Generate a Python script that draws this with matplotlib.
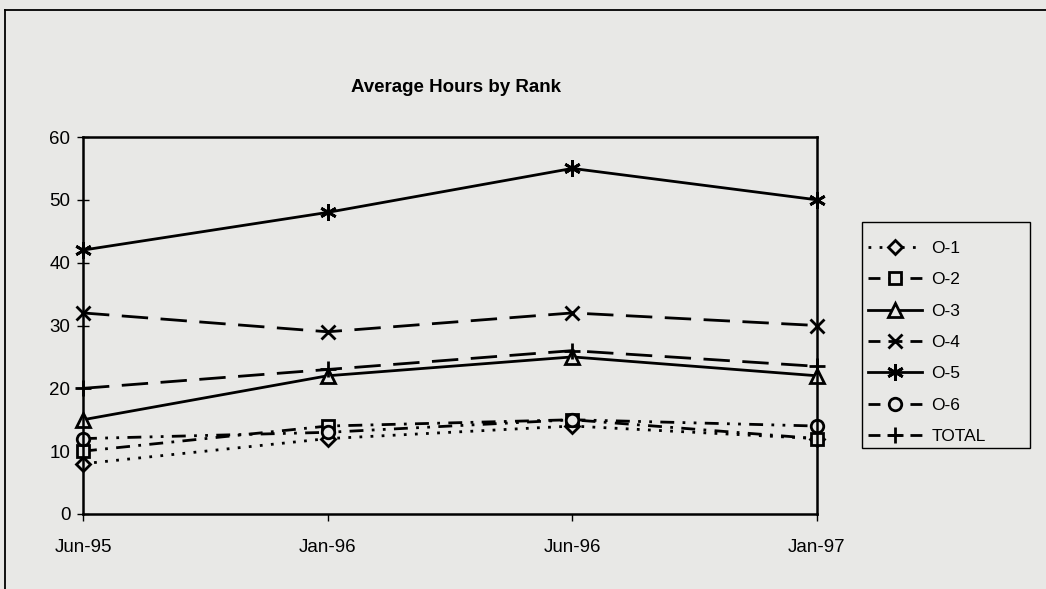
import matplotlib
matplotlib.use("Agg")
import matplotlib.pyplot as plt
from matplotlib.lines import Line2D
from matplotlib.patches import Rectangle

plt.rcParams['font.family'] = ['Liberation Sans', 'DejaVu Sans']

periods = ["Jun-95", "Jan-96", "Jun-96", "Jan-97"]
o1 = [8, 12, 14, 12]
o2 = [10, 14, 15, 12]
o3 = [15, 22, 25, 22]
o4 = [32, 29, 32, 30]
o5 = [42, 48, 55, 50]
o6 = [12, 13, 15, 14]
total = [20, 23, 26, 23.5]

bg = "#e8e8e6"
W, H = 1046, 589

fig = plt.figure(figsize=(W / 100, H / 100), dpi=100, facecolor=bg)
ax = fig.add_axes([83 / W, 1 - 514 / H, (817 - 83) / W, (514 - 137) / H])
ax.set_facecolor(bg)

x = list(range(len(periods)))
common = dict(color="black", lw=2.0, markerfacecolor=bg, markeredgecolor="black",
              markeredgewidth=2.0, clip_on=False)

dash_long = (0, (9.5, 4.5))
# legend sample: dash, gap, marker, gap, dash
dash_key = (0, (4.3, 2.9, 5.0, 2.9, 4.3, 10))
series = [
    ("O-1", o1, dict(ls=(0, (1.0, 3.0)), marker="D", ms=7), (0, (1.0, 3.0))),
    ("O-2", o2, dict(ls=(0, (5, 3, 1.0, 3)), marker="s", ms=8.5), dash_key),
    ("O-3", o3, dict(ls="-", marker="^", ms=9.5), "-"),
    ("O-4", o4, dict(ls=dash_long, marker="x", ms=10), dash_key),
    ("O-5", o5, dict(ls="-", marker=(6, 2, 0), ms=12), "-"),
    ("O-6", o6, dict(ls=(0, (5, 3, 1.0, 3, 1.0, 3)), marker="o", ms=9), dash_key),
    ("TOTAL", total, dict(ls=dash_long, marker="+", ms=12), dash_key),
]

handles = []
for name, vals, style, legend_ls in series:
    ax.plot(x, vals, label=name, **common, **style)
    proxy_style = dict(style)
    proxy_style["ls"] = legend_ls
    handles.append(Line2D([], [], label=name, **common, **proxy_style))

ax.set_xlim(0, len(periods) - 1)
ax.set_ylim(0, 60)
ax.set_yticks(range(0, 61, 10))
ax.set_xticks(x)
ax.set_xticklabels(periods)

for s in ax.spines.values():
    s.set_linewidth(1.8)
    s.set_color("black")

ax.tick_params(axis="y", direction="inout", length=8, width=1, labelsize=13.5, pad=5)
ax.tick_params(axis="x", direction="out", length=5, width=1, labelsize=13.5, pad=13)

fig.text(456 / W, 1 - 88 / H, "Average Hours by Rank", ha="center", va="center",
         fontsize=13.5, fontweight="bold")

# legend box
fig.add_artist(Rectangle((862 / W, 1 - 448 / H), (1030 - 862) / W, (448 - 222) / H,
                         transform=fig.transFigure, facecolor=bg, edgecolor="black",
                         lw=1.0, zorder=1))
leg = fig.legend(handles=handles, loc="upper left",
                 bbox_to_anchor=(868 / W, 1 - 241 / H),
                 fontsize=12.5, frameon=False, handlelength=3.1,
                 labelspacing=0.93, borderpad=0.0, handletextpad=0.55,
                 borderaxespad=0)
leg.set_zorder(2)

# outer chart border (top and left edges)
fig.add_artist(Line2D([5 / W, 1.0], [1 - 10 / H, 1 - 10 / H],
                      transform=fig.transFigure, color="black", lw=1.3))
fig.add_artist(Line2D([5 / W, 5 / W], [0.0, 1 - 10 / H],
                      transform=fig.transFigure, color="black", lw=1.3))

fig.savefig("out.png", dpi=100, facecolor=bg)
